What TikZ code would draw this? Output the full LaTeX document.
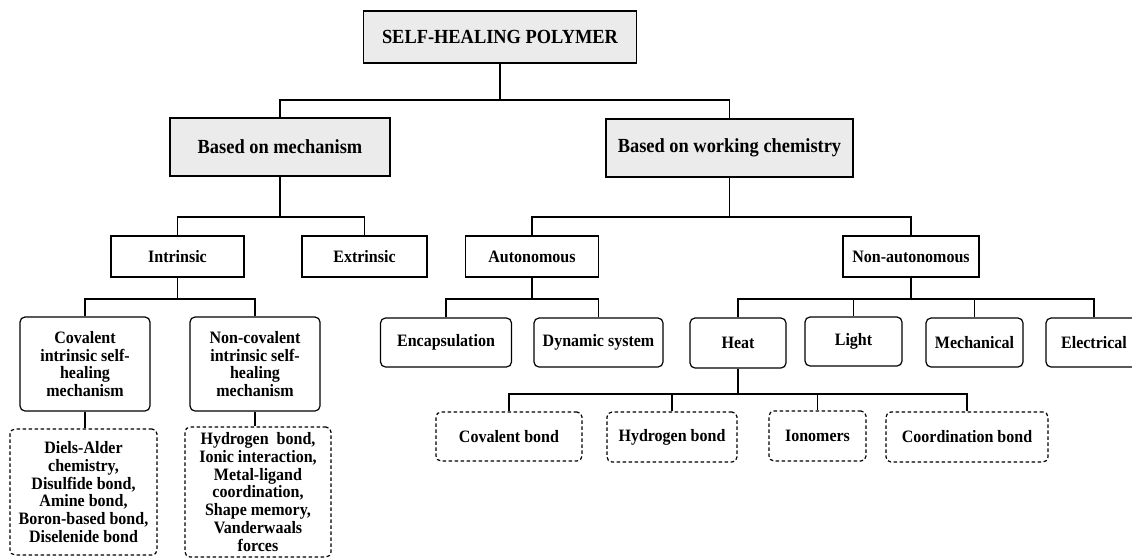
\documentclass[tikz,border=0pt]{standalone}
\usepackage{fontspec}
\setmainfont{Liberation Serif}[FakeStretch=0.92]
\usepackage{tikz}
\usetikzlibrary{positioning}

\begin{document}
\begin{tikzpicture}[x=1pt, y=-1pt,
	topbox/.style={draw, line width=1.5, fill=black!8, font=\fontsize{20}{21}\selectfont\bfseries, inner sep=3, align=center},
	catbox/.style={draw, line width=1.5, font=\fontsize{17.4}{17.7}\selectfont\bfseries, minimum height=41, inner sep=3, align=center},
	roundbox/.style={draw, line width=1.2, rounded corners=5, font=\fontsize{17.4}{17.7}\selectfont\bfseries, inner sep=2, align=center},
	dashbox/.style={roundbox, dash pattern=on 3.5pt off 2.5pt},
	link/.style={line width=1.8}
]
\useasboundingbox (0,0) rectangle (1132,558);
%top levels
\node[topbox, minimum width=273, minimum height=52] (poly) at (500,37) {SELF-HEALING POLYMER};
\node[topbox, minimum width=220, minimum height=58] (mech) at (280,147) {Based on mechanism};
\node[topbox, minimum width=247, minimum height=58] (chem) at (729.5,148) {Based on working chemistry};
\node[catbox, minimum width=133] (intr) at (177.5,256.5) {Intrinsic};
\node[catbox, minimum width=125] (extr) at (364.5,256.5) {Extrinsic};
\node[catbox, minimum width=133] (auto) at (532,256.5) {Autonomous};
\node[catbox, minimum width=136] (nauto) at (911,256.5) {Non-autonomous};
%intrinsic branch
\node[roundbox, minimum width=130, minimum height=94] (cov) at (85,364) {Covalent\\intrinsic self-\\healing\\mechanism};
\node[roundbox, minimum width=130, minimum height=94] (ncov) at (255,364) {Non-covalent\\intrinsic self-\\healing\\mechanism};
\node[dashbox, minimum width=147, minimum height=126] (covex) at (83.5,492) {Diels-Alder\\chemistry,\\Disulfide bond,\\Amine bond,\\Boron-based bond,\\Diselenide bond};
\node[dashbox, minimum width=146, minimum height=130] (ncovex) at (258,492) {Hydrogen\ \ bond,\\Ionic interaction,\\Metal-ligand\\coordination,\\Shape memory,\\Vanderwaals\\forces};
%working chemistry branch
\node[roundbox, minimum width=131, minimum height=49] (encap) at (446,342.5) {Encapsulation};
\node[roundbox, minimum width=129, minimum height=49] (dyn) at (598.5,342.5) {Dynamic system};
\node[roundbox, minimum width=96, minimum height=50] (heat) at (738,343) {Heat};
\node[roundbox, minimum width=97, minimum height=49] (light) at (853.5,341.5) {Light};
\node[roundbox, minimum width=97, minimum height=49] (mechan) at (974.5,342.5) {Mechanical};
\node[roundbox, minimum width=96, minimum height=49] (elec) at (1094,342.5) {Electrical};
\node[dashbox, minimum width=146, minimum height=49] (cbond) at (509,436.5) {Covalent bond};
\node[dashbox, minimum width=130, minimum height=50] (hbond) at (672,437) {Hydrogen bond};
\node[dashbox, minimum width=97, minimum height=50] (iono) at (817.5,436) {Ionomers};
\node[dashbox, minimum width=162, minimum height=50] (coord) at (967,437) {Coordination bond};
%junctions
\coordinate (j0) at (500,100);
\coordinate (j1) at (280,217);
\coordinate (j2) at (729.5,217);
\coordinate (j3) at (177.5,299);
\coordinate (j4) at (532,299);
\coordinate (j5) at (911,299);
\coordinate (j6) at (738,394);
\draw[link] (poly) -- (j0) -| (mech);
\draw[link] (j0) -| (chem);
\draw[link] (mech) -- (j1) -| (intr);
\draw[link] (j1) -| (extr);
\draw[link] (chem) -- (j2) -| (auto);
\draw[link] (j2) -| (nauto);
\draw[link] (intr) -- (j3) -| (cov);
\draw[link] (j3) -| (ncov);
\draw[link] (cov.south) -- (cov.south |- covex.north);
\draw[link] (ncov.south) -- (ncov.south |- ncovex.north);
\draw[link] (auto) -- (j4) -| (encap);
\draw[link] (j4) -| (dyn);
\draw[link] (nauto) -- (j5) -| (heat);
\draw[link] (j5) -| (light);
\draw[link] (j5) -| (mechan);
\draw[link] (j5) -| (elec);
\draw[link] (heat) -- (j6) -| (cbond);
\draw[link] (j6) -| (hbond);
\draw[link] (j6) -| (iono);
\draw[link] (j6) -| (coord);
\end{tikzpicture}
\end{document}
